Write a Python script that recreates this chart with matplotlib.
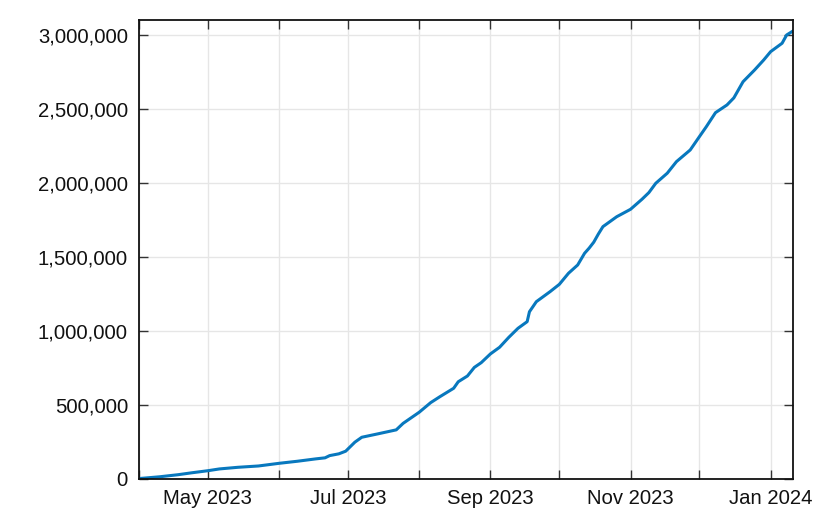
import matplotlib
matplotlib.use("Agg")
import matplotlib.pyplot as plt
import matplotlib.dates as mdates
import matplotlib.ticker as mticker
import numpy as np
import pandas as pd

dates = [
    "2023-04-01", "2023-04-10", "2023-04-18", "2023-04-24", "2023-05-01", "2023-05-06",
    "2023-05-14", "2023-05-23", "2023-06-01", "2023-06-09", "2023-06-17", "2023-06-21",
    "2023-06-23", "2023-06-27", "2023-06-30", "2023-07-04", "2023-07-07", "2023-07-14",
    "2023-07-22", "2023-07-25", "2023-08-01", "2023-08-06", "2023-08-10", "2023-08-16",
    "2023-08-18", "2023-08-22", "2023-08-25", "2023-08-28", "2023-09-01", "2023-09-05",
    "2023-09-09", "2023-09-13", "2023-09-17", "2023-09-18", "2023-09-21", "2023-09-27",
    "2023-10-01", "2023-10-05", "2023-10-09", "2023-10-12", "2023-10-14", "2023-10-16",
    "2023-10-18", "2023-10-20", "2023-10-26", "2023-11-01", "2023-11-06", "2023-11-09", "2023-11-12",
    "2023-11-17", "2023-11-21", "2023-11-27", "2023-12-01", "2023-12-04", "2023-12-08",
    "2023-12-13", "2023-12-16", "2023-12-20", "2023-12-25", "2023-12-29", "2024-01-01",
    "2024-01-06", "2024-01-08", "2024-01-11",
]
values = [
    3000, 15000, 29000, 42000, 56000, 68000,
    79000, 88000, 106000, 120000, 136000, 143000,
    158000, 170000, 188000, 249000, 282000, 305000,
    332000, 376000, 451000, 516000, 556000, 613000,
    657000, 696000, 754000, 786000, 845000, 890000,
    957000, 1018000, 1063000, 1130000, 1198000, 1266000,
    1315000, 1390000, 1446000, 1525000, 1560000, 1600000,
    1655000, 1705000, 1772000, 1822000, 1890000, 1935000, 1998000,
    2066000, 2144000, 2223000, 2313000, 2380000, 2475000,
    2527000, 2575000, 2684000, 2763000, 2831000, 2887000,
    2944000, 3000000, 3029000,
]

x = pd.to_datetime(dates)

plt.rcParams['font.family'] = ['Liberation Sans', 'DejaVu Sans']

fig = plt.figure(figsize=(8.30, 5.19), dpi=100)
ax = fig.add_axes([139/830, 1-479/519, (793-139)/830, (479-20)/519])

ax.plot(x, values, color='#0878BE', linewidth=2.2, solid_joinstyle='round')

ax.set_xlim(pd.Timestamp("2023-04-01"), pd.Timestamp("2024-01-10 18:00"))
ax.set_ylim(0, 3.101e6)

ax.xaxis.set_major_locator(mdates.MonthLocator(bymonth=[1, 3, 5, 7, 9, 11]))
ax.xaxis.set_major_formatter(mdates.DateFormatter("%b %Y"))
ax.xaxis.set_minor_locator(mdates.MonthLocator(bymonth=[2, 4, 6, 8, 10, 12]))
ax.yaxis.set_major_locator(mticker.MultipleLocator(500000))
ax.yaxis.set_major_formatter(mticker.FuncFormatter(lambda v, p: f"{int(v):,}"))

ax.grid(True, which='both', color='#e6e6e6', linewidth=1.0)
ax.set_axisbelow(True)

for s in ax.spines.values():
    s.set_linewidth(1.3)
    s.set_color('#111111')

ax.tick_params(axis='both', which='both', direction='in', length=6.5, width=1.0,
               color='#333333', top=True, right=True, labelsize=14.6, labelcolor='#111111')
ax.tick_params(axis='x', which='both', pad=7.5)
ax.tick_params(axis='y', which='both', pad=8)

fig.savefig("out.png", dpi=100)
